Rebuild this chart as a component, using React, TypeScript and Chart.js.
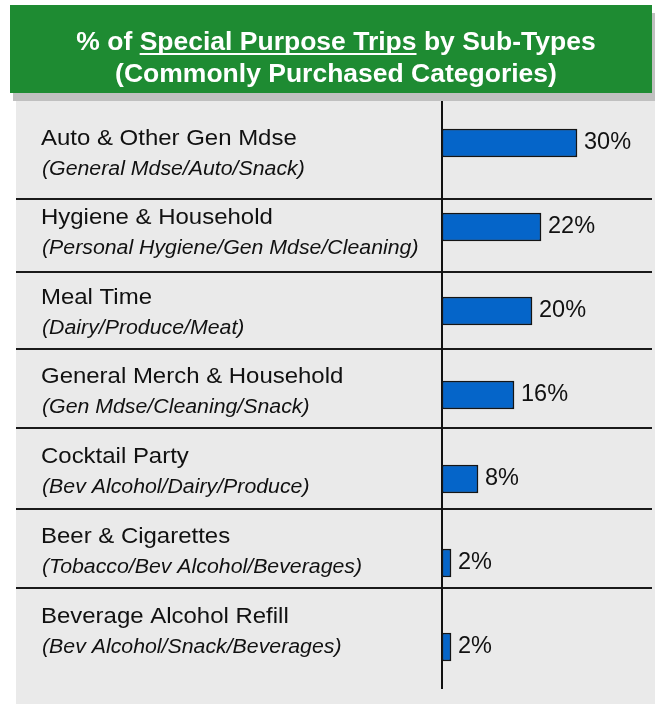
import { useEffect, useRef } from 'react';
import { Chart, registerables } from 'chart.js';

Chart.register(...registerables);

const categories = [
  'Auto & Other Gen Mdse',
  'Hygiene & Household',
  'Meal Time',
  'General Merch & Household',
  'Cocktail Party',
  'Beer & Cigarettes',
  'Beverage Alcohol Refill',
];
const subTypes = [
  '(General Mdse/Auto/Snack)',
  '(Personal Hygiene/Gen Mdse/Cleaning)',
  '(Dairy/Produce/Meat)',
  '(Gen Mdse/Cleaning/Snack)',
  '(Bev Alcohol/Dairy/Produce)',
  '(Tobacco/Bev Alcohol/Beverages)',
  '(Bev Alcohol/Snack/Beverages)',
];
const shares = [30, 22, 20, 16, 8, 2, 2];
const titleParts = ['% of ', 'Special Purpose Trips', ' by Sub-Types'];
const titleLine2 = '(Commonly Purchased Categories)';

// layout (not data)
const FONT = '"Liberation Sans", Arial, sans-serif';
const labelY = [139, 218, 298, 377, 457, 537, 617];
const sepY = [199, 272, 349, 428, 509, 588];
const SX = 1.065;

function drawText(ctx: CanvasRenderingContext2D, text: string, x: number, y: number, font: string, sx: number, color: string) {
  ctx.save();
  ctx.font = font;
  ctx.fillStyle = color;
  ctx.textBaseline = 'middle';
  ctx.textAlign = 'left';
  ctx.translate(x, y);
  ctx.scale(sx, 1);
  ctx.fillText(text, 0, 0);
  ctx.restore();
}

const backgroundPlugin = {
  id: 'bg',
  beforeDraw(chart: any) {
    const ctx: CanvasRenderingContext2D = chart.ctx;
    ctx.save();
    ctx.fillStyle = '#ffffff';
    ctx.fillRect(0, 0, chart.width, chart.height);
    // shadow
    ctx.fillStyle = '#c0c0c0';
    ctx.fillRect(13, 13, 642, 88);
    // banner
    ctx.fillStyle = '#1e8b32';
    ctx.fillRect(10, 5, 642, 88);
    // panel
    ctx.fillStyle = '#eaeaea';
    ctx.fillRect(16, 101, 639, 603);

    // title
    const tfont = 'bold 26.5px ' + FONT;
    ctx.font = tfont;
    const widths = titleParts.map((p) => ctx.measureText(p).width);
    const total = widths.reduce((a, b) => a + b, 0);
    const cx = 336;
    let x = cx - total / 2;
    ctx.fillStyle = '#ffffff';
    ctx.textBaseline = 'alphabetic';
    ctx.textAlign = 'left';
    titleParts.forEach((p, i) => {
      ctx.fillText(p, x, 50);
      if (i === 1) {
        ctx.fillRect(x, 53, widths[i], 2);
      }
      x += widths[i];
    });
    ctx.textAlign = 'center';
    ctx.fillText(titleLine2, cx, 82);

    // separators
    ctx.strokeStyle = '#1a1a1a';
    ctx.lineWidth = 2;
    sepY.forEach((y) => {
      ctx.beginPath();
      ctx.moveTo(16, y);
      ctx.lineTo(652, y);
      ctx.stroke();
    });
    ctx.restore();

    categories.forEach((c, i) => {
      drawText(ctx, c, 41, labelY[i], '22.5px ' + FONT, SX, '#111111');
      drawText(ctx, subTypes[i], 42, labelY[i] + 30, 'italic 20px ' + FONT, SX, '#111111');
    });
  },
  beforeDatasetsDraw(chart: any) {
    const ctx: CanvasRenderingContext2D = chart.ctx;
    const xs = chart.scales.x;
    const x0 = xs.getPixelForValue(0);
    ctx.save();
    ctx.strokeStyle = '#111111';
    ctx.lineWidth = 2;
    ctx.beginPath();
    ctx.moveTo(x0, chart.chartArea.top);
    ctx.lineTo(x0, chart.chartArea.bottom);
    ctx.stroke();
    ctx.restore();
  },
  afterDatasetsDraw(chart: any) {
    const ctx: CanvasRenderingContext2D = chart.ctx;
    const meta = chart.getDatasetMeta(0);
    meta.data.forEach((el: any, i: number) => {
      drawText(ctx, shares[i] + '%', el.x + 7, el.y, '23.5px ' + FONT, 1, '#111111');
    });
  },
};

export default function App() {
  const ref = useRef<HTMLCanvasElement>(null);
  useEffect(() => {
    const chart = new Chart(ref.current!, {
      type: 'bar',
      data: {
        labels: categories,
        datasets: [
          {
            data: shares,
            backgroundColor: '#0565c9',
            borderColor: '#151515',
            borderWidth: 1.5,
            borderSkipped: false,
            barThickness: 28,
          },
        ],
      },
      options: {
        indexAxis: 'y',
        responsive: false,
        animation: false,
        layout: { padding: { top: 101, bottom: 15, left: 442, right: 33 } },
        scales: {
          x: { display: false, min: 0, max: 40 },
          y: { display: false },
        },
        plugins: { legend: { display: false }, tooltip: { enabled: false } },
      },
      plugins: [backgroundPlugin],
    } as any);
    return () => chart.destroy();
  }, []);
  return (
    <div style={{ position: 'absolute', left: 0, top: 0, width: 655, height: 704 }}>
      <canvas ref={ref} width={655} height={704} style={{ display: 'block' }} />
    </div>
  );
}
